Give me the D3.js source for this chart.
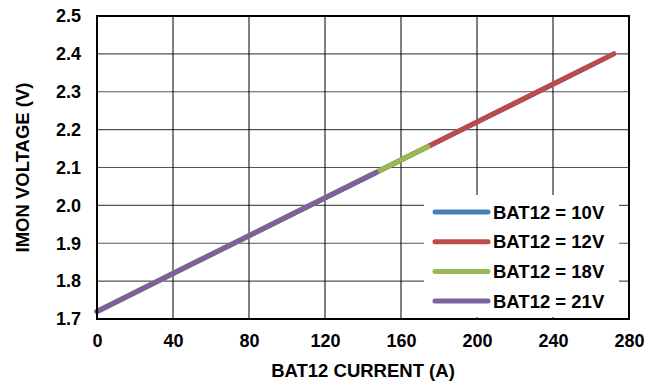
<!DOCTYPE html>
<html><head><meta charset="utf-8">
<script src="https://cdn.jsdelivr.net/npm/d3@7"></script>
<style>body{margin:0;background:#fff}svg{display:block;font-family:"Liberation Sans",Arial,sans-serif;font-weight:bold}</style>
</head><body><svg id="c" width="657" height="383"></svg>
<script>
const xTicks = [0,40,80,120,160,200,240,280];
const yTicks = [1.7,1.8,1.9,2.0,2.1,2.2,2.3,2.4,2.5];
const seriesNames = ["BAT12 = 10V","BAT12 = 12V","BAT12 = 18V","BAT12 = 21V"];
const seriesColors = ["#4a7ebb","#be4b48","#98b954","#7d60a0"];
const current10 = [0,50,100,150,200,250,272];
const voltage10 = [1.72,1.845,1.97,2.095,2.22,2.345,2.40];
const current12 = [0,50,100,150,200,250,272];
const voltage12 = [1.72,1.845,1.97,2.095,2.22,2.345,2.40];
const current18 = [0,50,100,150,174];
const voltage18 = [1.72,1.845,1.97,2.095,2.155];
const current21 = [0,50,100,147];
const voltage21 = [1.72,1.845,1.97,2.087];

const series = [
  {x:current10,y:voltage10},{x:current12,y:voltage12},
  {x:current18,y:voltage18},{x:current21,y:voltage21}
].map((s,i)=>({name:seriesNames[i],color:seriesColors[i],pts:s.x.map((v,j)=>[v,s.y[j]])}));

const svg = d3.select("#c");
const L=97,R=629,T=16,B=319;
const x = d3.scaleLinear().domain([0,280]).range([L,R]);
const y = d3.scaleLinear().domain([1.7,2.5]).range([B,T]);

// grid
svg.append("g").selectAll("line").data(yTicks.slice(1,-1)).join("line")
  .attr("x1",L).attr("x2",R).attr("y1",d=>y(d)).attr("y2",d=>y(d))
  .attr("stroke","#555").attr("stroke-width",1.2);
svg.append("g").selectAll("line").data(xTicks.slice(1,-1)).join("line")
  .attr("y1",T).attr("y2",B).attr("x1",d=>x(d)).attr("x2",d=>x(d))
  .attr("stroke","#000").attr("stroke-width",1);

// axes
const xa = svg.append("g").attr("transform",`translate(0,${B})`)
  .call(d3.axisBottom(x).tickValues(xTicks).tickSize(0).tickPadding(15).tickFormat(d3.format("d")));
const ya = svg.append("g").attr("transform",`translate(${L},0)`)
  .call(d3.axisLeft(y).tickValues(yTicks).tickSize(0).tickPadding(16).tickFormat(d3.format(".1f")));
[xa,ya].forEach(a=>{a.select(".domain").remove();a.selectAll("text").attr("font-size",18).attr("font-weight","bold").attr("fill","#000").attr("font-family","Liberation Sans, Arial, sans-serif");});

// lines
const line = d3.line().x(d=>x(d[0])).y(d=>y(d[1]));
svg.append("g").selectAll("path").data(series).join("path")
  .attr("d",d=>line(d.pts)).attr("fill","none").attr("stroke",d=>d.color)
  .attr("stroke-width",5).attr("stroke-linecap","round");

// border
svg.append("rect").attr("x",L).attr("y",T).attr("width",R-L).attr("height",B-T)
  .attr("fill","none").attr("stroke","#000").attr("stroke-width",2);

// legend
const lg = svg.append("g");
lg.append("rect").attr("x",424).attr("y",195).attr("width",195).attr("height",122).attr("fill","#fff");
const rows = lg.selectAll("g").data(series).join("g")
  .attr("transform",(d,i)=>`translate(0,${212+i*29.7})`);
rows.append("line").attr("x1",435).attr("x2",488).attr("stroke",d=>d.color)
  .attr("stroke-width",5).attr("stroke-linecap","round");
rows.append("text").attr("x",493).attr("dy","0.36em").attr("font-size",18.5).text(d=>d.name);

// titles
svg.append("text").attr("x",(L+R)/2).attr("y",377).attr("text-anchor","middle").attr("font-size",18.5).text("BAT12 CURRENT (A)");
svg.append("text").attr("transform",`translate(29,${(T+B)/2}) rotate(-90)`).attr("text-anchor","middle").attr("font-size",18.5).text("IMON VOLTAGE (V)");
</script></body></html>
